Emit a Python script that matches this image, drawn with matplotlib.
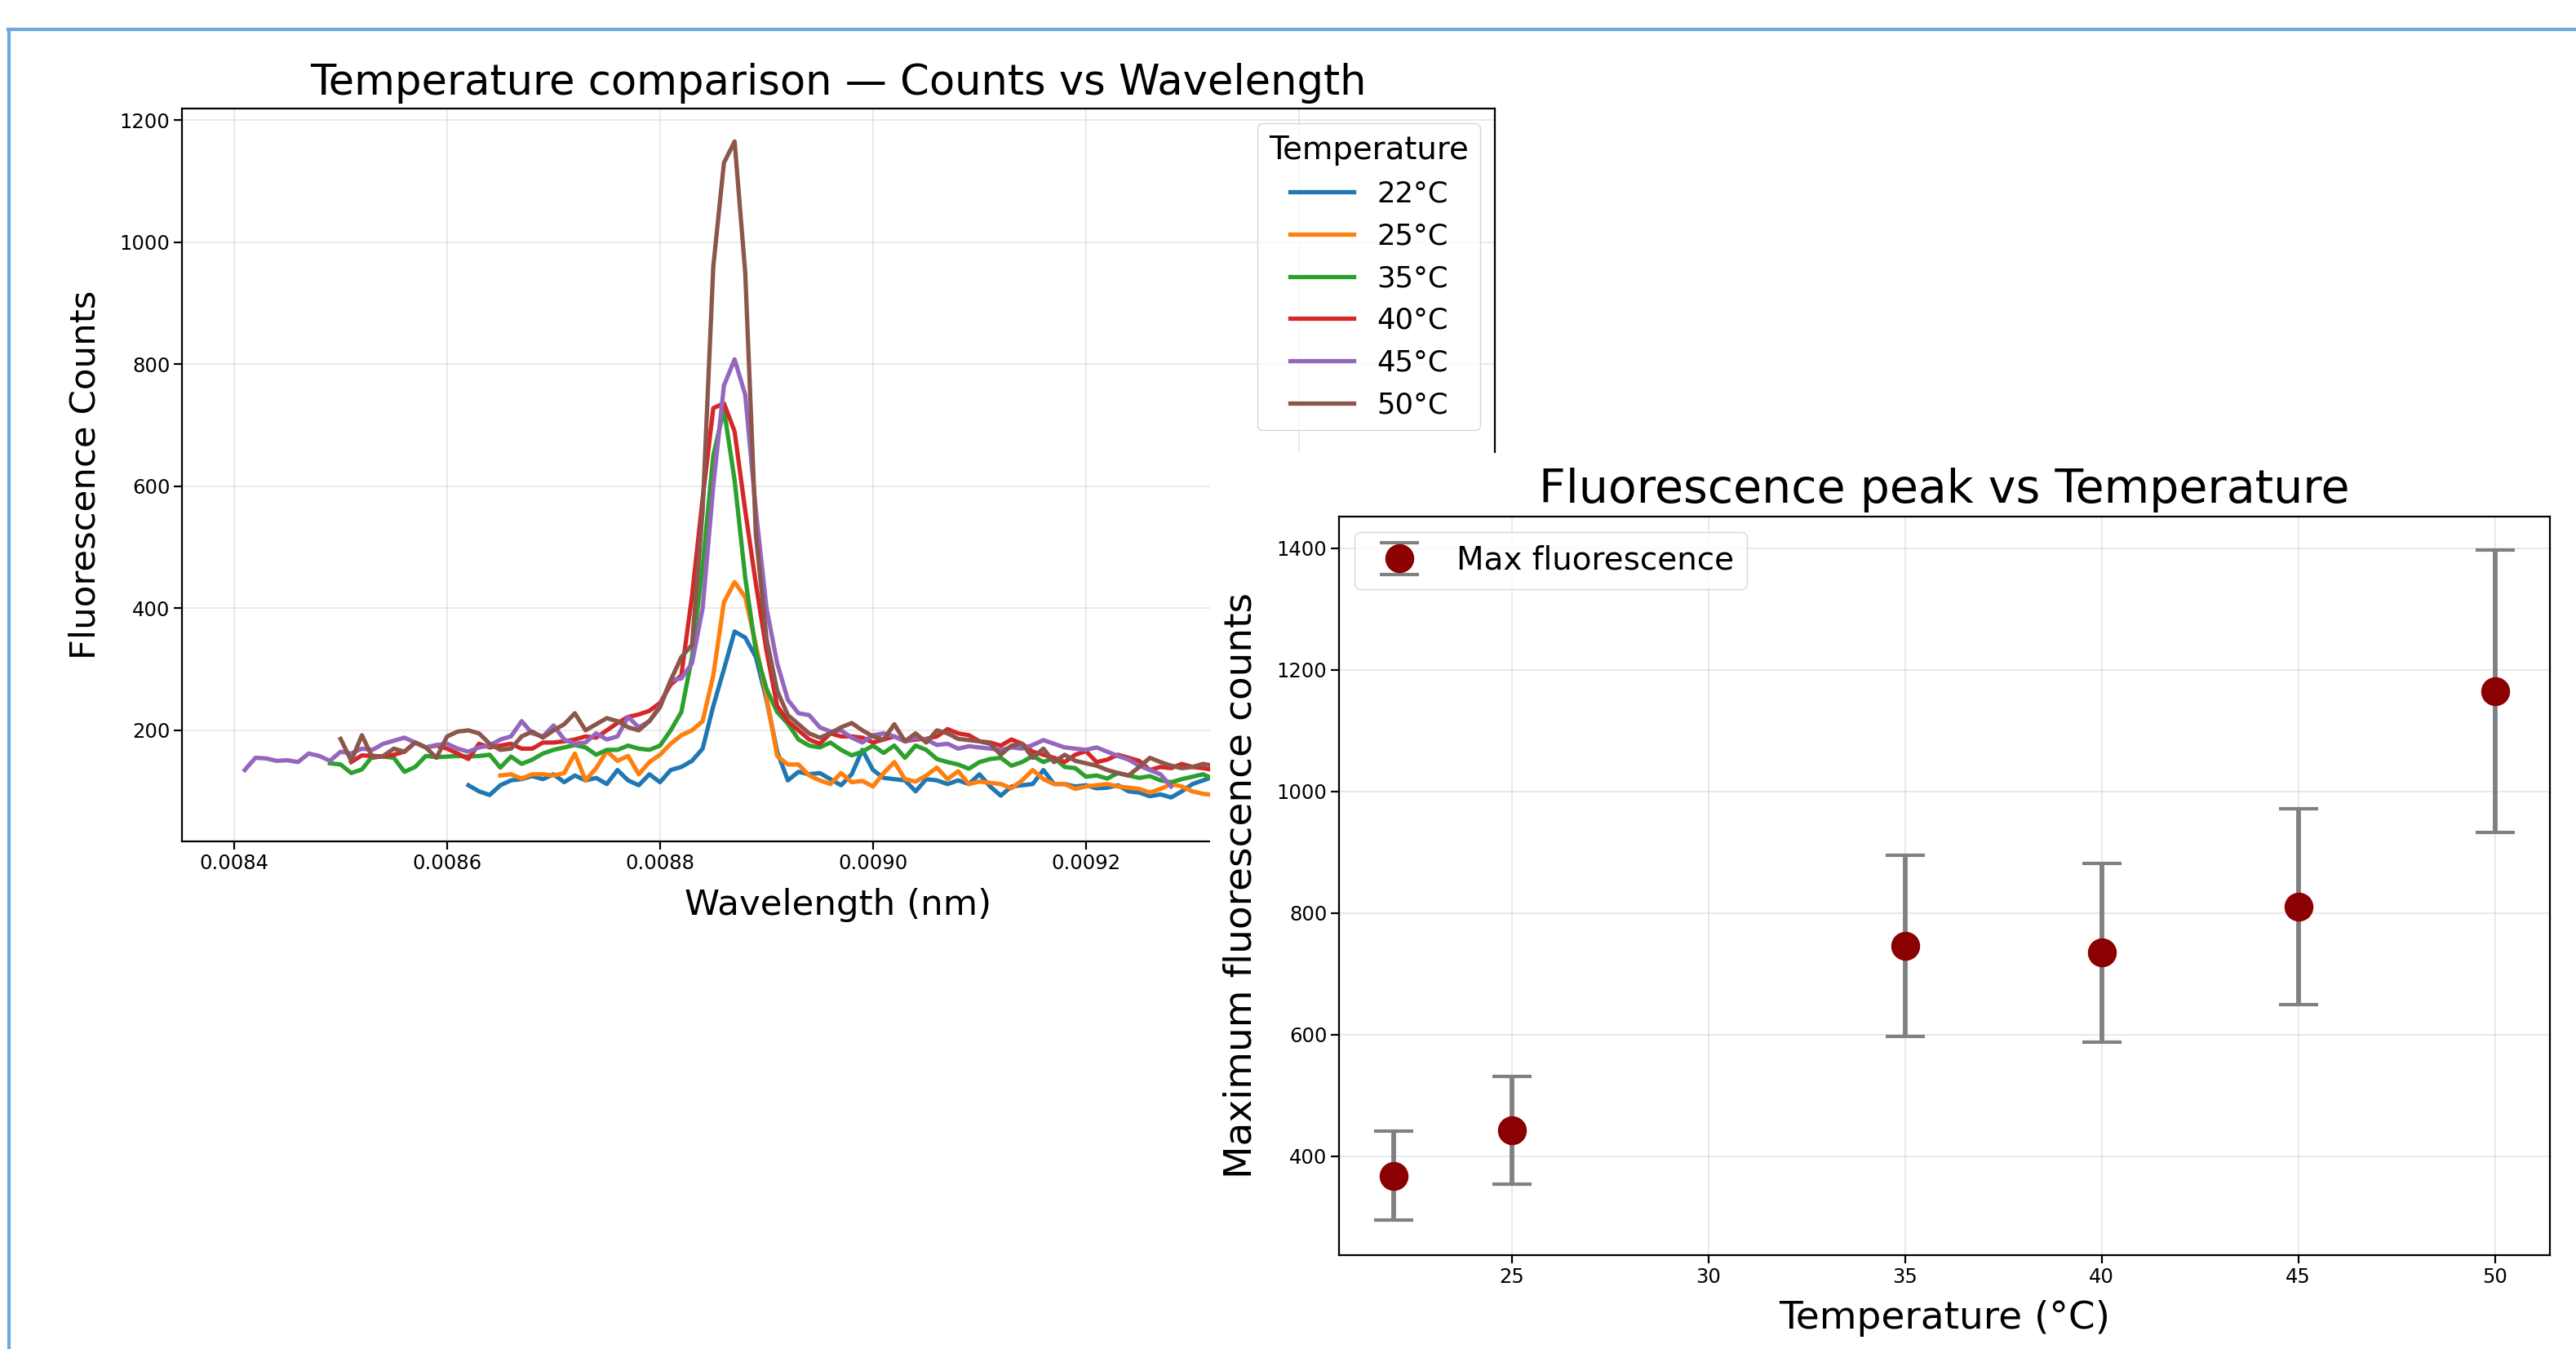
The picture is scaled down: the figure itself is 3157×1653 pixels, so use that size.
import numpy as np
import matplotlib.pyplot as plt
from matplotlib.lines import Line2D

# canvas in pixels (dpi 100)
W, H = 3157, 1653
DPI = 100

# ---- spectra: counts sampled on a 1e-5 nm grid starting at 0.00840 nm ----
wl_start = 0.00840
wl_step = 0.00001

labels = ['22°C', '25°C', '35°C', '40°C', '45°C', '50°C']
first_idx = [22, 25, 9, 11, 1, 10]

counts_22 = [110, 100, 94, 110, 118, 120, 125, 120, 128, 115, 126, 118, 122, 112,
             135, 118, 110, 128, 115, 135, 140, 150, 170, 240, 300, 362, 352, 320,
             250, 165, 118, 132, 128, 130, 120, 110, 128, 168, 135, 122, 120, 118,
             100, 120, 118, 112, 118, 112, 128, 108, 93, 108, 110, 112, 135, 112,
             112, 108, 110, 105, 106, 110, 100, 98, 92, 95, 90, 100, 112, 118, 124,
             120, 118, 115]
counts_25 = [126, 128, 121, 128, 128, 126, 130, 162, 118, 138, 166, 150, 158, 128,
             148, 160, 178, 192, 200, 215, 290, 410, 443, 418, 340, 255, 158, 144,
             144, 126, 118, 112, 130, 115, 117, 108, 130, 148, 120, 116, 126, 139,
             120, 133, 112, 116, 114, 112, 105, 118, 135, 120, 112, 112, 104, 108,
             110, 112, 108, 106, 104, 98, 104, 112, 108, 100, 96, 94, 98, 100, 102]
counts_35 = [146, 144, 130, 136, 158, 157, 155, 132, 140, 158, 156, 157, 158, 157,
             158, 160, 139, 157, 145, 152, 162, 168, 172, 176, 172, 160, 168, 168,
             175, 170, 168, 175, 200, 230, 320, 470, 650, 726, 610, 450, 330, 268,
             230, 211, 185, 175, 172, 180, 168, 159, 165, 175, 163, 175, 155, 175,
             168, 153, 148, 144, 137, 148, 153, 155, 142, 148, 158, 148, 155, 140,
             138, 124, 126, 121, 130, 126, 122, 125, 118, 115, 120, 124, 128, 120,
             118, 120]
counts_40 = [148, 159, 158, 157, 160, 165, 180, 172, 175, 170, 162, 153, 178, 172,
             175, 178, 170, 170, 180, 180, 182, 185, 190, 188, 200, 212, 222, 226,
             232, 245, 275, 290, 420, 580, 728, 736, 690, 560, 440, 330, 240, 215,
             200, 185, 178, 195, 190, 190, 188, 180, 185, 190, 182, 185, 186, 190,
             202, 195, 192, 182, 180, 175, 185, 178, 165, 160, 155, 148, 160, 166,
             148, 152, 160, 155, 150, 135, 140, 138, 145, 140, 138, 135, 140, 138]
counts_45 = [135, 155, 154, 150, 151, 148, 162, 158, 150, 165, 162, 170, 168, 178,
             183, 188, 180, 172, 176, 178, 170, 165, 172, 175, 185, 190, 215, 195,
             190, 208, 185, 178, 180, 195, 185, 190, 222, 205, 215, 240, 282, 285,
             310, 400, 600, 765, 808, 750, 560, 400, 310, 250, 228, 225, 205, 198,
             200, 188, 180, 192, 195, 190, 182, 188, 185, 176, 178, 170, 174, 172,
             170, 168, 172, 170, 176, 184, 178, 172, 170, 168, 172, 165, 158, 152,
             142, 135, 128, 108]
counts_50 = [186, 150, 192, 155, 158, 170, 165, 180, 172, 155, 190, 198, 200, 195,
             178, 168, 170, 190, 198, 188, 200, 210, 228, 200, 210, 220, 215, 205,
             200, 215, 238, 282, 320, 340, 560, 960, 1130, 1165, 950, 520, 350, 265,
             225, 210, 195, 188, 195, 205, 212, 200, 190, 185, 210, 182, 195, 180,
             200, 195, 186, 184, 182, 178, 160, 175, 178, 155, 170, 148, 160, 150,
             146, 142, 135, 130, 126, 140, 155, 148, 142, 138, 140, 145, 142, 140,
             140, 140]
spectra = [counts_22, counts_25, counts_35, counts_40, counts_45, counts_50]

# ---- peak summary ----
temps = [22, 25, 35, 40, 45, 50]
max_counts = [368, 443, 746, 735, 811, 1165]
max_err = [73, 88, 149, 147, 161, 232]

plt.rcParams['font.family'] = 'DejaVu Sans'
fig = plt.figure(figsize=(W / DPI, H / DPI), dpi=DPI)


def box(l, t, r, b):
    # pixel box -> figure fraction [left, bottom, width, height]
    return [l / W, 1 - b / H, (r - l) / W, (b - t) / H]


# ---------------- left chart ----------------
ax1 = fig.add_axes(box(223, 133, 1832, 1031), zorder=1)
for i, (lab, vals) in enumerate(zip(labels, spectra)):
    wl = wl_start + wl_step * (first_idx[i] + np.arange(len(vals)))
    ax1.plot(wl, vals, color='C%d' % i, linewidth=3.8, label=lab)
ax1.set_xlim(0.008351, 0.009584)
ax1.set_ylim(18, 1219)
ax1.set_xticks([0.0084, 0.0086, 0.0088, 0.0090, 0.0092, 0.0094])
ax1.set_yticks([200, 400, 600, 800, 1000, 1200])
ax1.set_title('Temperature comparison — Counts vs Wavelength', fontsize=36.8, pad=12)
ax1.set_xlabel('Wavelength (nm)', fontsize=31.3, labelpad=13)
ax1.set_ylabel('Fluorescence Counts', fontsize=31.3, labelpad=15)
ax1.tick_params(labelsize=17.5, length=7, width=1.6)
ax1.grid(True, alpha=0.3, linewidth=1.3)
for s in ax1.spines.values():
    s.set_linewidth(1.6)
leg1 = ax1.legend(title='Temperature', fontsize=25.5, title_fontsize=27.8,
                  loc='upper right', borderaxespad=0.5, handlelength=2.2)

# white patch of the pasted second figure
cover = fig.add_axes(box(1483, 555, W, H), zorder=2)
cover.set_facecolor('white')
cover.set_xticks([])
cover.set_yticks([])
for s in cover.spines.values():
    s.set_visible(False)

# ---------------- right chart ----------------
ax2 = fig.add_axes(box(1641, 633, 3125, 1538), zorder=3)
ax2.errorbar(temps, max_counts, yerr=max_err, fmt='o', color='darkred',
             markersize=24.5, ecolor='gray', elinewidth=4.2, capsize=17,
             capthick=3, label='Max fluorescence')
ax2.set_xlim(20.6, 51.4)
ax2.set_ylim(237.6, 1452)
ax2.set_xticks([25, 30, 35, 40, 45, 50])
ax2.set_yticks([400, 600, 800, 1000, 1200, 1400])
ax2.set_title('Fluorescence peak vs Temperature', fontsize=41, pad=12)
ax2.set_xlabel('Temperature (°C)', fontsize=33.8, labelpad=12)
ax2.set_ylabel('Maximum fluorescence counts', fontsize=33.8, labelpad=15)
ax2.tick_params(labelsize=17.5, length=7, width=1.6)
ax2.grid(True, alpha=0.3, linewidth=1.3)
for s in ax2.spines.values():
    s.set_linewidth(1.6)
ax2.legend(fontsize=28, loc='upper left', borderaxespad=0.5)

# page frame (blue lines at top and left)
frame_col = '#6fa8dc'
fig.add_artist(Line2D([10 / W, 1], [1 - 36 / H, 1 - 36 / H], color=frame_col,
                      linewidth=3, transform=fig.transFigure))
fig.add_artist(Line2D([10.5 / W, 10.5 / W], [0, 1 - 36 / H], color=frame_col,
                      linewidth=3, transform=fig.transFigure))

fig.savefig('out.png', dpi=DPI)
